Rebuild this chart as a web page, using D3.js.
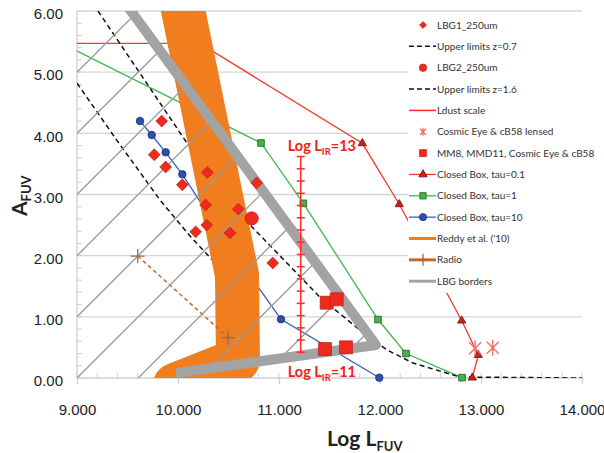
<!DOCTYPE html>
<html>
<head>
<meta charset="utf-8">
<script src="https://d3js.org/d3.v7.min.js"></script>
<style>
body { margin: 0; background: #fff; }
svg { display: block; font-family: Lato, "Liberation Sans", sans-serif; }
</style>
</head>
<body>
<div id="canvas"></div>
<script>
// axis ticks
var xTicks = [9, 10, 11, 12, 13, 14];
var yTicks = [0, 1, 2, 3, 4, 5, 6];

// LBG1_250um
var lbg1L = [9.839, 9.765, 9.878, 10.043, 10.290, 10.274, 10.597, 10.284, 10.175, 10.515, 10.779, 10.938];
var lbg1A = [4.20, 3.65, 3.45, 3.16, 3.36, 2.83, 2.76, 2.50, 2.39, 2.37, 3.19, 1.88];
// LBG2_250um
var lbg2L = [10.73];
var lbg2A = [2.61];
// upper limits
var upper07L = [9.0, 9.393, 9.822, 10.119, 10.396];
var upper07A = [4.82, 3.89, 2.91, 2.32, 1.83];
var upper16L = [9.208, 10.069, 10.733, 11.406, 11.832, 12.069, 12.327, 12.792, 14.0];
var upper16A = [6.0, 3.89, 2.47, 1.32, 0.74, 0.46, 0.245, 0.016, 0.0];
// Ldust scale (error-bar style ruler)
var ldustL = 11.215;
var ldustA = [3.62, 3.42, 3.22, 3.02, 2.82, 2.62, 2.42, 2.22, 2.02, 1.82, 1.62, 1.42, 1.22, 1.02, 0.82, 0.62, 0.42];
// lensed
var lensedL = [12.941, 13.116];
var lensedA = [0.486, 0.495];
// MM8, MMD11, Cosmic Eye & cB58
var mmL = [11.472, 11.571, 11.455, 11.663];
var mmA = [1.231, 1.287, 0.474, 0.502];
// closed box models
var tau01L = [8.8, 10.218, 11.825, 12.191, 12.809, 12.973, 12.914];
var tau01A = [5.47, 5.47, 3.837, 2.84, 0.937, 0.376, 0.005];
var tau1L = [8.8, 10.822, 11.241, 11.98, 12.257, 12.812];
var tau1A = [5.51, 3.842, 2.856, 0.956, 0.40, 0.005];
var tau10L = [9.624, 9.740, 9.878, 10.043, 10.465, 11.020, 11.993];
var tau10A = [4.201, 3.973, 3.689, 3.33, 2.256, 0.960, 0.005];
// Reddy et al. ('10)
var reddyL = [10.03, 10.584, 10.594, 9.97];
var reddyA = [6.18, 1.684, 0.294, -0.114];
// Radio
var radioL = [9.601, 10.498];
var radioA = [1.994, 0.659];
// LBG borders
var lbgL = [9.49, 11.96, 9.98];
var lbgA = [6.1, 0.54, 0.08];
// hatched region
var hatchOffsets = [5, 4, 3, 2, 1, 0, -1, -2, -3, -4];
var hatchSlope = 1.65;
var hatchClipL = [9, 9.534, 11.96, 9.98, 9.98, 9];
var hatchClipA = [6, 6, 0.54, 0.08, 0, 0];

var legendLabels = ['LBG1_250um', 'Upper limits z=0.7', 'LBG2_250um', 'Upper limits z=1.6', 'Ldust scale',
  'Cosmic Eye & cB58 lensed', 'MM8, MMD11, Cosmic Eye & cB58', 'Closed Box, tau=0.1', 'Closed Box, tau=1',
  'Closed Box, tau=10', "Reddy et al. ('10)", 'Radio', 'LBG borders'];

var outerWidth = 604, outerHeight = 453;
var margin = { left: 77, top: 11, right: 22, bottom: 75 };
var innerWidth = outerWidth - margin.left - margin.right;
var innerHeight = outerHeight - margin.top - margin.bottom;

var x = d3.scaleLinear().domain([9, 14]).range([0, innerWidth]);
var y = d3.scaleLinear().domain([0, 6]).range([innerHeight, 0]);

function pts(L, A) { return L.map(function (d, i) { return [d, A[i]]; }); }
var line = d3.line().x(function (d) { return x(d[0]); }).y(function (d) { return y(d[1]); });

var red = '#ee2a1e', redDark = '#b8160e';
var green = '#3cb84a', blue = '#3a5cc0', orange = '#f07d1e', gray = '#a3a3a3', brown = '#c46a28';

var svg = d3.select('#canvas').append('svg')
  .attr('width', outerWidth)
  .attr('height', outerHeight);

var defs = svg.append('defs');
defs.append('clipPath').attr('id', 'plotClip')
  .append('rect').attr('width', innerWidth).attr('height', innerHeight);
defs.append('clipPath').attr('id', 'markClip')
  .append('rect').attr('x', -8).attr('y', -8).attr('width', innerWidth + 16).attr('height', innerHeight + 16);
defs.append('clipPath').attr('id', 'hatchClip')
  .append('path').attr('d', line(pts(hatchClipL, hatchClipA)) + 'Z');

var g = svg.append('g')
  .attr('transform', 'translate(' + margin.left + ',' + margin.top + ')');

// gridlines
g.append('g').selectAll('line')
  .data(yTicks.slice(1))
  .enter().append('line')
  .attr('x1', 0).attr('x2', innerWidth)
  .attr('y1', function (d) { return y(d); }).attr('y2', function (d) { return y(d); })
  .attr('stroke', '#d6d6d6').attr('stroke-width', 1.3);

// legend box sits over the gridlines but under the data
svg.append('rect')
  .attr('x', 408).attr('y', 14).attr('width', 196).attr('height', 279)
  .attr('fill', '#fff');

// axis lines and minor ticks
var axisColor = '#cfcfcf';
g.append('line').attr('x1', 0).attr('x2', 0).attr('y1', 0).attr('y2', innerHeight)
  .attr('stroke', axisColor).attr('stroke-width', 1.3);
g.append('line').attr('x1', 0).attr('x2', innerWidth).attr('y1', innerHeight).attr('y2', innerHeight)
  .attr('stroke', axisColor).attr('stroke-width', 1.3);
g.append('g').selectAll('line')
  .data(d3.range(0, 6.01, 0.2))
  .enter().append('line')
  .attr('x1', 0).attr('x2', 5)
  .attr('y1', function (d) { return y(d); }).attr('y2', function (d) { return y(d); })
  .attr('stroke', axisColor);
g.append('g').selectAll('line')
  .data(d3.range(9, 14.01, 0.2))
  .enter().append('line')
  .attr('x1', function (d) { return x(d); }).attr('x2', function (d) { return x(d); })
  .attr('y1', innerHeight - 5).attr('y2', innerHeight)
  .attr('stroke', axisColor);

var xAxis = g.append('g')
  .attr('transform', 'translate(0,' + innerHeight + ')')
  .call(d3.axisBottom(x).tickValues(xTicks).tickFormat(d3.format('.3f')).tickSize(6).tickPadding(20));
xAxis.select('.domain').remove();
xAxis.selectAll('line').attr('stroke', axisColor).attr('stroke-width', 1.3);
xAxis.selectAll('text').style('font-size', '15px').attr('fill', '#222');

var yAxis = g.append('g')
  .call(d3.axisLeft(y).tickValues(yTicks).tickFormat(d3.format('.2f')).tickSize(0).tickPadding(14));
yAxis.select('.domain').remove();
yAxis.selectAll('text').style('font-size', '15px').attr('fill', '#222').attr('dy', '0.52em');

// axis titles
var yt = svg.append('text')
  .attr('transform', 'translate(27,216) rotate(-90)')
  .style('font-size', '21px').style('font-weight', 'bold').attr('fill', '#222');
yt.append('tspan').text('A');
yt.append('tspan').attr('dy', 4).style('font-size', '13px').text('FUV');

var xt = svg.append('text')
  .attr('x', 327).attr('y', 446)
  .style('font-size', '21px').style('font-weight', 'bold').attr('fill', '#222');
xt.append('tspan').text('Log L');
xt.append('tspan').attr('dy', 5).style('font-size', '13px').text('FUV');

// markers
function plusPath(r) { return 'M' + (-r) + ',0H' + r + 'M0,' + (-r) + 'V' + r; }
function starPath(r) {
  var a = r * 0.75;
  return 'M0,' + (-r) + 'V' + r + 'M' + (-a) + ',' + (-a) + 'L' + a + ',' + a + 'M' + (-a) + ',' + a + 'L' + a + ',' + (-a);
}
function markerPath(type, size) {
  if (type === 'plus') return plusPath(size);
  if (type === 'star') return starPath(size);
  var t = { diamond: d3.symbolSquare, square: d3.symbolSquare, triangle: d3.symbolTriangle, circle: d3.symbolCircle }[type];
  return d3.symbol(t, size)();
}
var markStyle = {
  lbg1: { type: 'diamond', size: 70, fill: red, stroke: redDark, sw: 0.6 },
  lbg2: { type: 'circle', size: 140, fill: red, stroke: redDark, sw: 0.6 },
  mm: { type: 'square', size: 170, fill: red, stroke: redDark, sw: 0.6 },
  lensed: { type: 'star', size: 8, fill: 'none', stroke: '#f26a62', sw: 1.3 },
  tau01: { type: 'triangle', size: 30, fill: '#c8201a', stroke: '#6a1010', sw: 0.8 },
  tau1: { type: 'square', size: 44, fill: '#40b545', stroke: '#1e5e22', sw: 0.8 },
  tau10: { type: 'circle', size: 44, fill: '#2d4fb0', stroke: '#18306e', sw: 0.8 },
  radio: { type: 'plus', size: 7, fill: 'none', stroke: '#9a6a48', sw: 1.3 }
};
function drawMarkers(parent, data, key) {
  var s = markStyle[key];
  parent.append('g').selectAll('path')
    .data(data)
    .enter().append('path')
    .attr('d', markerPath(s.type, s.size))
    .attr('transform', function (d) {
      return 'translate(' + x(d[0]) + ',' + y(d[1]) + ')' + (s.type === 'diamond' ? ' rotate(45)' : '');
    })
    .attr('fill', s.fill).attr('stroke', s.stroke).attr('stroke-width', s.sw);
}

// drawing layers, bottom to top
var lineLayer = g.append('g').attr('clip-path', 'url(#plotClip)');
var lineMarkLayer = g.append('g').attr('clip-path', 'url(#markClip)');
var bandLayer = g.append('g').attr('clip-path', 'url(#plotClip)');
var topLayer = g.append('g').attr('clip-path', 'url(#markClip)');

// model lines, partly hidden behind the Reddy band
lineLayer.append('path').attr('d', line(pts(tau01L, tau01A)))
  .attr('fill', 'none').attr('stroke', '#f23a2a').attr('stroke-width', 1.3);
lineLayer.append('path').attr('d', line(pts(tau1L, tau1A)))
  .attr('fill', 'none').attr('stroke', green).attr('stroke-width', 1.3);
lineLayer.append('path').attr('d', line(pts(tau10L, tau10A)))
  .attr('fill', 'none').attr('stroke', blue).attr('stroke-width', 1.3);
lineLayer.selectAll('path.upper')
  .data([pts(upper07L, upper07A), pts(upper16L, upper16A)])
  .enter().append('path').attr('class', 'upper')
  .attr('d', line)
  .attr('fill', 'none').attr('stroke', '#111').attr('stroke-width', 1.5).attr('stroke-dasharray', '5,3.5');
drawMarkers(lineMarkLayer, pts(tau01L, tau01A), 'tau01');
drawMarkers(lineMarkLayer, pts(tau1L, tau1A), 'tau1');
drawMarkers(lineMarkLayer, pts(tau10L, tau10A), 'tau10');

// Reddy band
bandLayer.append('path').attr('d', line(pts(reddyL, reddyA)))
  .attr('fill', 'none').attr('stroke', orange).attr('stroke-width', 44)
  .attr('stroke-linejoin', 'round').attr('stroke-linecap', 'round');

// radio
bandLayer.append('path').attr('d', line(pts(radioL, radioA)))
  .attr('fill', 'none').attr('stroke', brown).attr('stroke-width', 1.5).attr('stroke-dasharray', '4,3');

// hatching inside the LBG borders
bandLayer.append('g').attr('clip-path', 'url(#hatchClip)').selectAll('line')
  .data(hatchOffsets)
  .enter().append('line')
  .attr('x1', x(9)).attr('y1', function (k) { return y(k); })
  .attr('x2', x(14)).attr('y2', function (k) { return y(k + 5 * hatchSlope); })
  .attr('stroke', '#9c9c9c').attr('stroke-width', 1.4);

// LBG borders
bandLayer.append('path').attr('d', line(pts(lbgL, lbgA)))
  .attr('fill', 'none').attr('stroke', gray).attr('stroke-width', 10)
  .attr('stroke-linejoin', 'round');

drawMarkers(topLayer, pts(radioL, radioA), 'radio');

// Ldust scale ruler
var ruler = g.append('g');
ruler.append('line')
  .attr('x1', x(ldustL)).attr('x2', x(ldustL))
  .attr('y1', y(d3.max(ldustA))).attr('y2', y(d3.min(ldustA)))
  .attr('stroke', '#ff2a2a').attr('stroke-width', 1.5);
ruler.selectAll('line.tick')
  .data(ldustA)
  .enter().append('line').attr('class', 'tick')
  .attr('x1', x(ldustL) - 4).attr('x2', x(ldustL) + 4)
  .attr('y1', function (d) { return y(d); }).attr('y2', function (d) { return y(d); })
  .attr('stroke', '#ff2a2a').attr('stroke-width', 1.5);
function irLabel(val, yPos) {
  var t = g.append('text')
    .attr('x', x(ldustL) - 13).attr('y', yPos)
    .style('font-size', '14.5px').style('font-weight', 'bold').attr('fill', '#f0221a');
  t.append('tspan').text('Log L');
  t.append('tspan').attr('dy', 4).style('font-size', '9.5px').text('IR');
  t.append('tspan').attr('dy', -4).text('=' + val);
}
irLabel(13, y(d3.max(ldustA)) - 6);
irLabel(11, y(d3.min(ldustA)) + 25);

// data points
drawMarkers(topLayer, pts(lbg1L, lbg1A), 'lbg1');
drawMarkers(topLayer, pts(lbg2L, lbg2A), 'lbg2');
drawMarkers(topLayer, pts(mmL, mmA), 'mm');
drawMarkers(topLayer, pts(lensedL, lensedA), 'lensed');

// legend
var legendKeys = [
  { mark: 'lbg1' }, { line: 'dash' }, { mark: 'lbg2' }, { line: 'dash' }, { line: 'ldust' },
  { mark: 'lensed' }, { mark: 'mm' }, { line: 'tau01', mark: 'tau01' }, { line: 'tau1', mark: 'tau1' },
  { line: 'tau10', mark: 'tau10' }, { line: 'reddy' }, { line: 'radio', mark: 'radio' }, { line: 'lbg' }
];
var legendLine = {
  dash: { stroke: '#111', w: 1.5, dash: '5,3' },
  ldust: { stroke: '#ff2a2a', w: 1.5 },
  tau01: { stroke: '#f23a2a', w: 1.3 },
  tau1: { stroke: green, w: 1.3 },
  tau10: { stroke: blue, w: 1.3 },
  reddy: { stroke: orange, w: 3 },
  radio: { stroke: brown, w: 3 },
  lbg: { stroke: gray, w: 3 }
};
var legendSize = { lbg1: 24, lbg2: 44, mm: 50, lensed: 4, tau01: 30, tau1: 40, tau10: 40, radio: 6 };
var legend = svg.append('g');
legend.selectAll('g')
  .data(legendLabels)
  .enter().append('g')
  .attr('transform', function (d, i) { return 'translate(0,' + (25 + i * 21.35) + ')'; })
  .each(function (d, i) {
    var item = d3.select(this);
    var key = legendKeys[i];
    if (key.line) {
      var ls = legendLine[key.line];
      item.append('line').attr('x1', 409).attr('x2', 436).attr('y1', 0).attr('y2', 0)
        .attr('stroke', ls.stroke).attr('stroke-width', ls.w).attr('stroke-dasharray', ls.dash || null);
    }
    if (key.mark) {
      var s = markStyle[key.mark];
      item.append('path')
        .attr('d', markerPath(s.type, legendSize[key.mark]))
        .attr('transform', 'translate(423,0)' + (s.type === 'diamond' ? ' rotate(45)' : ''))
        .attr('fill', s.fill).attr('stroke', s.stroke).attr('stroke-width', s.sw);
    }
    item.append('text')
      .attr('x', 437).attr('dy', '0.35em')
      .style('font-size', '10px').attr('fill', '#333')
      .text(d);
  });
</script>
</body>
</html>
